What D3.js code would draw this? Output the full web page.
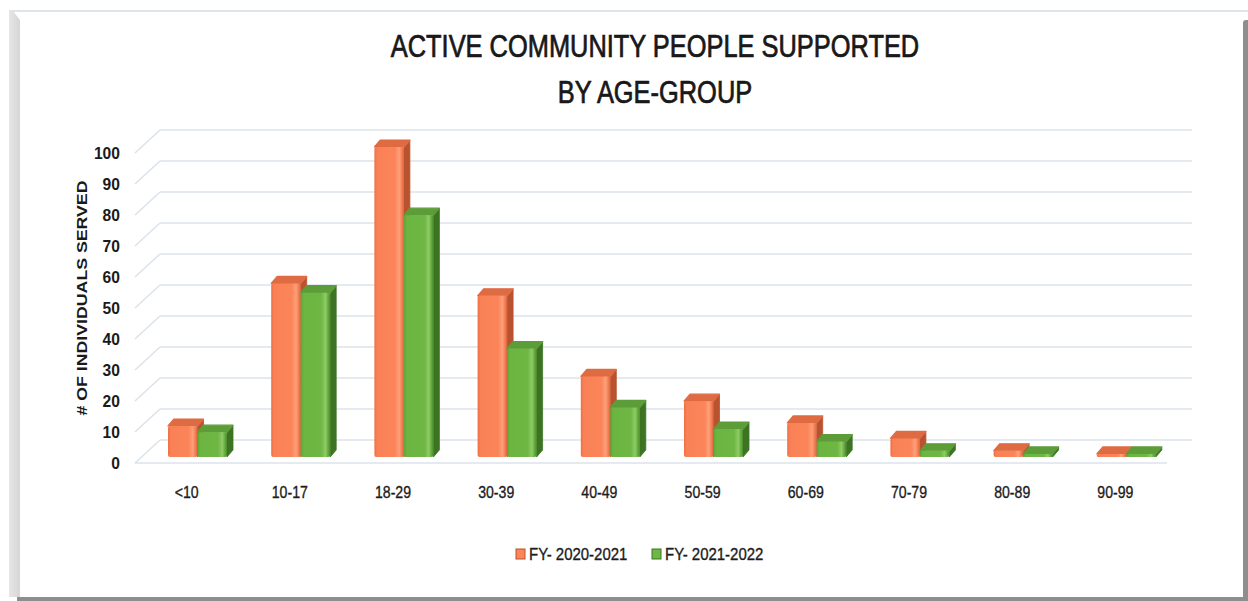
<!DOCTYPE html>
<html>
<head>
<meta charset="utf-8">
<script src="https://cdn.jsdelivr.net/npm/d3@7"></script>
<style>
  html, body { margin: 0; padding: 0; background: #ffffff; }
  svg { display: block; }
  text { font-family: "Liberation Sans", Arial, sans-serif; fill: #1a1a1a; }
</style>
</head>
<body>
<svg id="chart" width="1248" height="601"></svg>
<script>
// ---------- data ----------
const categories = ["<10", "10-17", "18-29", "30-39", "40-49", "50-59", "60-69", "70-79", "80-89", "90-99"];
const seriesNames = ["FY- 2020-2021", "FY- 2021-2022"];
const fy2020_2021 = [10, 56, 100, 52, 26, 18, 11, 6, 2, 1];
const fy2021_2022 = [8, 53, 78, 35, 16, 9, 5, 2, 1, 1];
const yTicks = [0, 10, 20, 30, 40, 50, 60, 70, 80, 90, 100];
const titleLines = ["ACTIVE COMMUNITY PEOPLE SUPPORTED", "BY AGE-GROUP"];
const yAxisTitle = "# OF INDIVIDUALS SERVED";

const seriesValues = [fy2020_2021, fy2021_2022];
const seriesColors = [
  { front: ["#EF6F44", "#FA8157", "#FB8559", "#FDA07B", "#F27A4F", "#D9623C"], side: "#B9532F", top: "#DF6B43" },
  { front: ["#5FA437", "#6CB541", "#6FB744", "#8FCB66", "#60A83A", "#4A8A2B"], side: "#3D7424", top: "#5D9D39" }
];

const svg = d3.select("#chart");
const defs = svg.append("defs");
const narrow = 0.83; // horizontal squeeze to mimic a condensed (Calibri-like) face

// ---------- frame ----------
const leftGrad = defs.append("linearGradient").attr("id", "leftStrip").attr("x1", 0).attr("x2", 1).attr("y1", 0).attr("y2", 0);
leftGrad.append("stop").attr("offset", "0%").attr("stop-color", "#e6e6e6");
leftGrad.append("stop").attr("offset", "100%").attr("stop-color", "#d6d6d6");
svg.append("line").attr("x1", 9).attr("x2", 1248).attr("y1", 11).attr("y2", 11)
  .attr("stroke", "#dfe3ea").attr("stroke-width", 2);
svg.append("path").attr("d", "M9,11 L13,11 L20,20 L20,597 L9,597 Z").attr("fill", "url(#leftStrip)");
svg.append("rect").attr("x", 17).attr("y", 597).attr("width", 1231).attr("height", 4).attr("fill", "#8e8e8e");
svg.append("rect").attr("x", 1243).attr("y", 20).attr("width", 8).attr("height", 585).attr("rx", 3).attr("fill", "#8e8e8e");

// ---------- scales ----------
const depthDX = 25, depthDY = -23;          // wall depth offset (front -> back)
const frontLeft = 135, frontRight = 1167, frontZeroY = 463;
const x = d3.scaleBand().domain(categories).range([frontLeft, frontRight]).paddingInner(0).paddingOuter(0);
const yFront = d3.scaleLinear().domain([0, 100]).range([frontZeroY, frontZeroY - 310]);
const yBack = d3.scaleLinear().domain([0, 100]).range([frontZeroY + depthDY, frontZeroY + depthDY - 310]);
const barBase = 457;
const yBar = d3.scaleLinear().domain([0, 100]).range([barBase, barBase - 310]);
const xSub = d3.scaleBand().domain(seriesNames).range([33, 92]).padding(0);

// ---------- gridlines ----------
const grid = svg.append("g").attr("class", "grid");
grid.selectAll("line.back").data(yTicks).join("line")
  .attr("class", "back")
  .attr("x1", frontLeft + depthDX).attr("x2", frontRight + depthDX)
  .attr("y1", d => yBack(d)).attr("y2", d => yBack(d))
  .attr("stroke", "#dde3eb").attr("stroke-width", 1.6);
grid.selectAll("line.diag").data(yTicks).join("line")
  .attr("class", "diag")
  .attr("x1", frontLeft).attr("x2", frontLeft + depthDX)
  .attr("y1", d => yFront(d)).attr("y2", d => yBack(d))
  .attr("stroke", "#dde3eb").attr("stroke-width", 1.6);
grid.append("line")
  .attr("x1", frontLeft).attr("x2", frontRight)
  .attr("y1", yFront(0)).attr("y2", yFront(0))
  .attr("stroke", "#dde3eb").attr("stroke-width", 1.6);

// ---------- y tick labels ----------
svg.append("g").selectAll("text").data(yTicks).join("text")
  .attr("transform", d => `translate(120,${yFront(d) + 2}) scale(0.92,1)`)
  .attr("text-anchor", "end").attr("dominant-baseline", "middle")
  .attr("font-size", 17).attr("font-weight", "bold").attr("fill", "#222")
  .text(d => d);

// ---------- y axis title ----------
svg.append("text")
  .attr("transform", "translate(87,298) rotate(-90)")
  .attr("text-anchor", "middle")
  .attr("font-size", 14).attr("font-weight", "bold")
  .attr("textLength", 235).attr("lengthAdjust", "spacingAndGlyphs")
  .text(yAxisTitle);

// ---------- gradients for bars ----------
seriesColors.forEach((c, i) => {
  const g = defs.append("linearGradient").attr("id", "front" + i).attr("x1", 0).attr("x2", 1).attr("y1", 0).attr("y2", 0);
  const offs = [0, 10, 70, 84, 94, 100];
  c.front.forEach((col, k) => g.append("stop").attr("offset", offs[k] + "%").attr("stop-color", col));
});

// ---------- bars ----------
const barW = xSub.bandwidth();
const bdx = 6, bdy = -7;
const barData = [];
categories.forEach((cat, ci) => {
  seriesNames.forEach((s, si) => {
    barData.push({ cat, si, s, v: seriesValues[si][ci] });
  });
});
const bars = svg.append("g").attr("class", "bars");
const bg = bars.selectAll("g.bar").data(barData).join("g").attr("class", "bar");
bg.each(function (d) {
  const g = d3.select(this);
  const x0 = x(d.cat) + xSub(d.s);
  const x1 = x0 + barW;
  const yt = yBar(d.v);
  const c = seriesColors[d.si];
  g.append("path")
    .attr("d", `M${x1},${yt} L${x1 + bdx},${yt + bdy} L${x1 + bdx},${barBase + bdy} L${x1},${barBase} Z`)
    .attr("fill", c.side).attr("stroke", c.side).attr("stroke-width", 0.8).attr("stroke-linejoin", "round");
  g.append("path")
    .attr("d", `M${x0},${yt} L${x1},${yt} L${x1 + bdx},${yt + bdy} L${x0 + bdx},${yt + bdy} Z`)
    .attr("fill", c.top).attr("stroke", c.top).attr("stroke-width", 1.2).attr("stroke-linejoin", "round");
  g.append("rect")
    .attr("x", x0).attr("y", yt).attr("width", barW).attr("height", Math.max(0, barBase - yt))
    .attr("rx", Math.min(2, (barBase - yt) / 2))
    .attr("fill", `url(#front${d.si})`);
});

// ---------- x labels ----------
svg.append("g").selectAll("text").data(categories).join("text")
  .attr("transform", d => `translate(${x(d) + x.bandwidth() / 2},498) scale(${narrow},1)`)
  .attr("text-anchor", "middle")
  .attr("font-size", 17).attr("fill", "#222")
  .attr("stroke", "#222").attr("stroke-width", 0.35)
  .text(d => d);

// ---------- title ----------
svg.append("g").selectAll("text").data(titleLines).join("text")
  .attr("transform", (d, i) => `translate(655,${57 + i * 46}) scale(0.82,1)`)
  .attr("text-anchor", "middle")
  .attr("font-size", 31).attr("fill", "#111")
  .attr("stroke", "#111").attr("stroke-width", 0.7)
  .text(d => d);

// ---------- legend ----------
const legendX = [516, 652];
const leg = svg.append("g").selectAll("g").data(seriesNames).join("g")
  .attr("transform", (d, i) => `translate(${legendX[i]},549)`);
leg.append("rect").attr("width", 9).attr("height", 10)
  .attr("fill", (d, i) => seriesColors[i].front[2])
  .attr("stroke", (d, i) => seriesColors[i].side).attr("stroke-width", 1);
leg.append("text").attr("transform", `translate(13,11) scale(0.88,1)`)
  .attr("font-size", 17).attr("fill", "#222")
  .attr("stroke", "#222").attr("stroke-width", 0.35)
  .text(d => d);
</script>
</body>
</html>
